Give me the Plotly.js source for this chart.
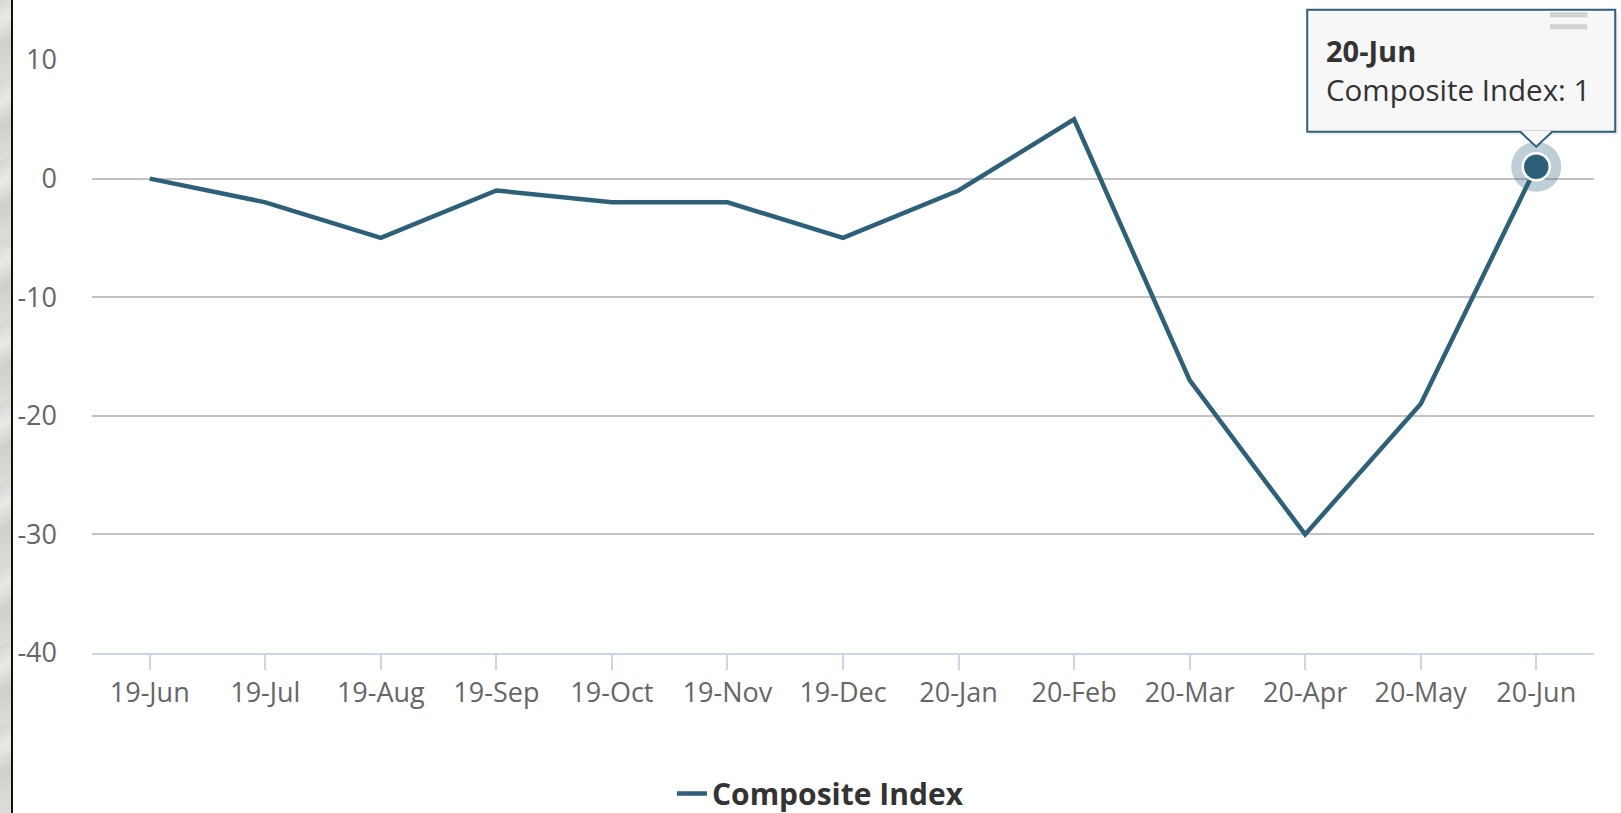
<!DOCTYPE html>
<html>
<head>
<meta charset="utf-8">
<script src="https://cdn.plot.ly/plotly-3.0.1.min.js"></script>
<style>
  html, body { margin: 0; padding: 0; background: #ffffff; }
  #chart { width: 1621px; height: 813px; }
  #strip {
    position: absolute; left: 0; top: 0; width: 11px; height: 813px;
    background: repeating-linear-gradient(150deg, #d6d6d2 0px, #e9e9e6 18px, #cfcfcb 40px, #deded9 70px);
    border-right: 2px solid #111111; z-index: 5;
  }
</style>
</head>
<body>
<div id="strip"></div>
<div id="chart"></div>
<script>
// ---- data ----
const categories = ["19-Jun","19-Jul","19-Aug","19-Sep","19-Oct","19-Nov","19-Dec","20-Jan","20-Feb","20-Mar","20-Apr","20-May","20-Jun"];
const compositeIndex = [0, -2, -5, -1, -2, -2, -5, -1, 5, -17, -30, -19, 1];
const seriesName = "Composite Index";
const yTickVals = [10, 0, -10, -20, -30, -40];
const yTickText = ["10", "0", "-10", "-20", "-30", "-40"];

// ---- styles ----
const lineColor = "#2c6179";
const yMin = -40, yMax = 10;
const hoverIdx = categories.length - 1;
const hoverCat = categories[hoverIdx];
const hoverVal = compositeIndex[hoverIdx];
// anchor of hovered point in paper units (through the axis ranges)
const ax = (hoverIdx + 0.5) / categories.length;
const ay = (hoverVal - yMin) / (yMax - yMin);

const traces = [
  {
    type: "scatter", mode: "lines", name: seriesName,
    x: categories, y: compositeIndex,
    line: { color: lineColor, width: 4.5 },
    hoverinfo: "skip"
  },
  { // halo
    type: "scatter", mode: "markers", showlegend: false, hoverinfo: "skip",
    x: [hoverCat], y: [hoverVal],
    marker: { size: 50, color: "rgba(44,97,121,0.3)", line: { width: 0 } }
  },
  { // hovered marker
    type: "scatter", mode: "markers", showlegend: false, hoverinfo: "skip",
    x: [hoverCat], y: [hoverVal],
    marker: { size: 27, color: lineColor, line: { width: 2.5, color: "#ffffff" } }
  }
];

function px(o) {
  return Object.assign({ layer: "above", xref: "paper", yref: "paper",
    xsizemode: "pixel", ysizemode: "pixel", xanchor: ax, yanchor: ay }, o);
}

const shapes = [
  // tooltip shadow
  px({ type: "rect", x0: -227, x1: 82, y0: 32, y1: 155,
    fillcolor: "rgba(0,0,0,0.07)", line: { width: 0 } }),
  // tooltip box
  px({ type: "rect", x0: -229, x1: 79, y0: 35, y1: 157,
    fillcolor: "rgb(247,247,247)", line: { color: lineColor, width: 2 } }),
  // tooltip pointer
  px({ type: "path", path: "M -16 36 L 0 20 L 16 36 Z",
    fillcolor: "rgb(247,247,247)", line: { width: 0 } }),
  px({ type: "path", path: "M -16 35 L 0 20 L 16 35",
    line: { color: lineColor, width: 2 } }),
  // context menu lines
  { type: "line", layer: "above", xref: "paper", yref: "paper",
    x0: 0.9707, x1: 0.9955, y0: 1.0762, y1: 1.0762, line: { color: "#d2d2d2", width: 5 } },
  { type: "line", layer: "above", xref: "paper", yref: "paper",
    x0: 0.9707, x1: 0.9955, y0: 1.0560, y1: 1.0560, line: { color: "#d2d2d2", width: 5 } }
];

const annotations = [
  { xref: "x", yref: "y", x: hoverCat, y: hoverVal, showarrow: false,
    xanchor: "left", yanchor: "middle", xshift: -212, yshift: 116,
    text: "<b>" + hoverCat + "</b>", font: { family: "Open Sans", size: 29, color: "#333333" } },
  { xref: "x", yref: "y", x: hoverCat, y: hoverVal, showarrow: false,
    xanchor: "left", yanchor: "middle", xshift: -212, yshift: 77,
    text: seriesName + ": " + hoverVal, font: { family: "Open Sans", size: 29.5, color: "#333333" } }
];

const layout = {
  width: 1621, height: 813,
  margin: { l: 92, r: 27, t: 60, b: 160, pad: 0 },
  paper_bgcolor: "#ffffff", plot_bgcolor: "#ffffff",
  font: { family: "Open Sans", color: "#666666" },
  showlegend: true,
  legend: {
    orientation: "h", x: 0.485, xanchor: "center",
    yref: "container", y: 0.024, yanchor: "middle",
    font: { family: "Open Sans", size: 30, color: "#333333", weight: "bold" },
    bgcolor: "rgba(0,0,0,0)"
  },
  xaxis: {
    type: "category", range: [-0.5, categories.length - 0.5],
    showgrid: false, zeroline: false,
    showline: true, linecolor: "#ccd6eb", linewidth: 2,
    ticks: "outside", ticklen: 15, tickwidth: 2, tickcolor: "#ccd6eb",
    tickfont: { family: "Open Sans", size: 27, color: "#666666" },
    fixedrange: true
  },
  yaxis: {
    range: [yMin, yMax], tickvals: yTickVals, ticktext: yTickText,
    showgrid: true, gridcolor: "#c2c2c2", gridwidth: 2,
    zeroline: false, showline: false, ticks: "",
    ticklabelstandoff: 34,
    tickfont: { family: "Open Sans", size: 27, color: "#666666" },
    fixedrange: true
  },
  shapes: shapes,
  annotations: annotations,
  hovermode: false
};

Plotly.newPlot("chart", traces, layout, { displayModeBar: false, staticPlot: true });
</script>
</body>
</html>
